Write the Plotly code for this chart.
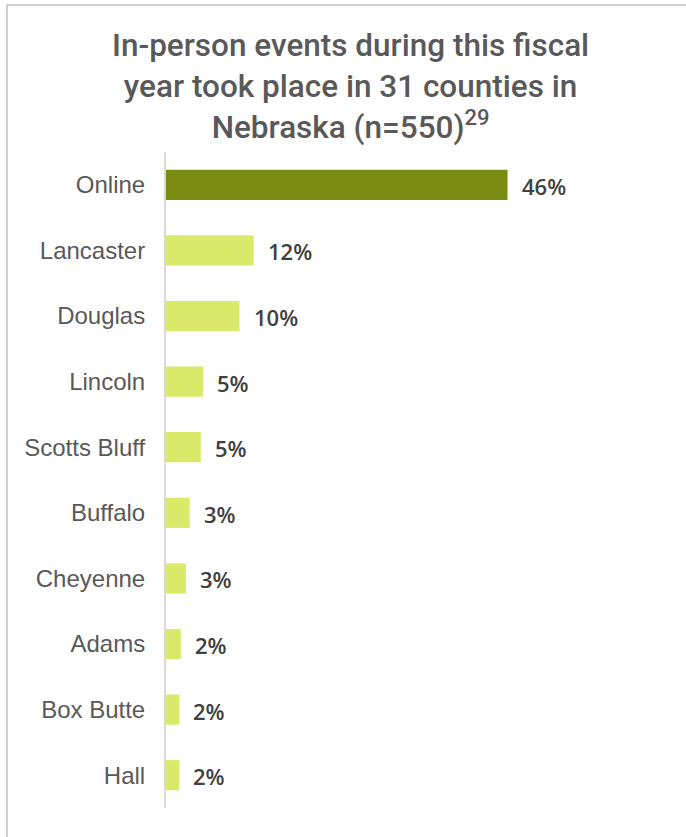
import plotly.graph_objects as go

categories = ["Online", "Lancaster", "Douglas", "Lincoln", "Scotts Bluff",
              "Buffalo", "Cheyenne", "Adams", "Box Butte", "Hall"]
values = [46, 11.8, 9.9, 5.0, 4.7, 3.2, 2.7, 2.0, 1.8, 1.8]
labels = ["46%", "12%", "10%", "5%", "5%", "3%", "3%", "2%", "2%", "2%"]
bar_colors = ["#7A8B12"] + ["#D9EA6A"] * 9
title_text = "In-person events during this fiscal<br>year took place in 31 counties in<br>Nebraska (n=550)<sup>29</sup>"

W, H = 686, 837
L, R, T, B = 166, 30, 152, 29
pw, ph = W - L - R, H - T - B

fig = go.Figure()
fig.add_trace(go.Bar(
    y=categories, x=values, orientation="h",
    marker=dict(color=bar_colors, line=dict(width=0)),
    width=0.46, hoverinfo="skip",
))

for c, v, t in zip(categories, values, labels):
    fig.add_annotation(x=v, y=c, text=t, showarrow=False, xanchor="left",
                       xshift=12, yshift=-1,
                       font=dict(family="Open Sans", size=22, color="#404040", weight=600))

fig.add_annotation(
    xref="paper", yref="paper", x=(350 - L) / pw, y=1 + (T - 25) / ph,
    xanchor="center", yanchor="top", showarrow=False, align="center",
    text=title_text,
    font=dict(family="Roboto", size=31.5, color="#595959", weight=500),
)

fig.update_layout(
    width=W, height=H,
    margin=dict(l=L, r=R, t=T, b=B, autoexpand=False),
    paper_bgcolor="white", plot_bgcolor="white",
    showlegend=False,
    xaxis=dict(range=[0, 66], visible=False, fixedrange=True),
    yaxis=dict(
        categoryorder="array", categoryarray=categories,
        autorange=False, range=[9.5, -0.5], automargin=False,
        showline=True, linecolor="#D9D9D9", linewidth=2,
        showgrid=False, zeroline=False, ticks="",
        ticklabelstandoff=14,
        tickfont=dict(family="Liberation Sans", size=24, color="#595959"),
    ),
    shapes=[dict(type="rect", xref="paper", yref="paper",
                 x0=(7 - L) / pw, x1=1 + (R + 20) / pw,
                 y0=-(B + 20) / ph, y1=1 + (T - 5) / ph,
                 line=dict(color="#D0D0D0", width=2), fillcolor="rgba(0,0,0,0)",
                 layer="below")],
)

fig.write_html("out.html", config={"displayModeBar": False},
               post_script="document.body.style.margin='0';")
